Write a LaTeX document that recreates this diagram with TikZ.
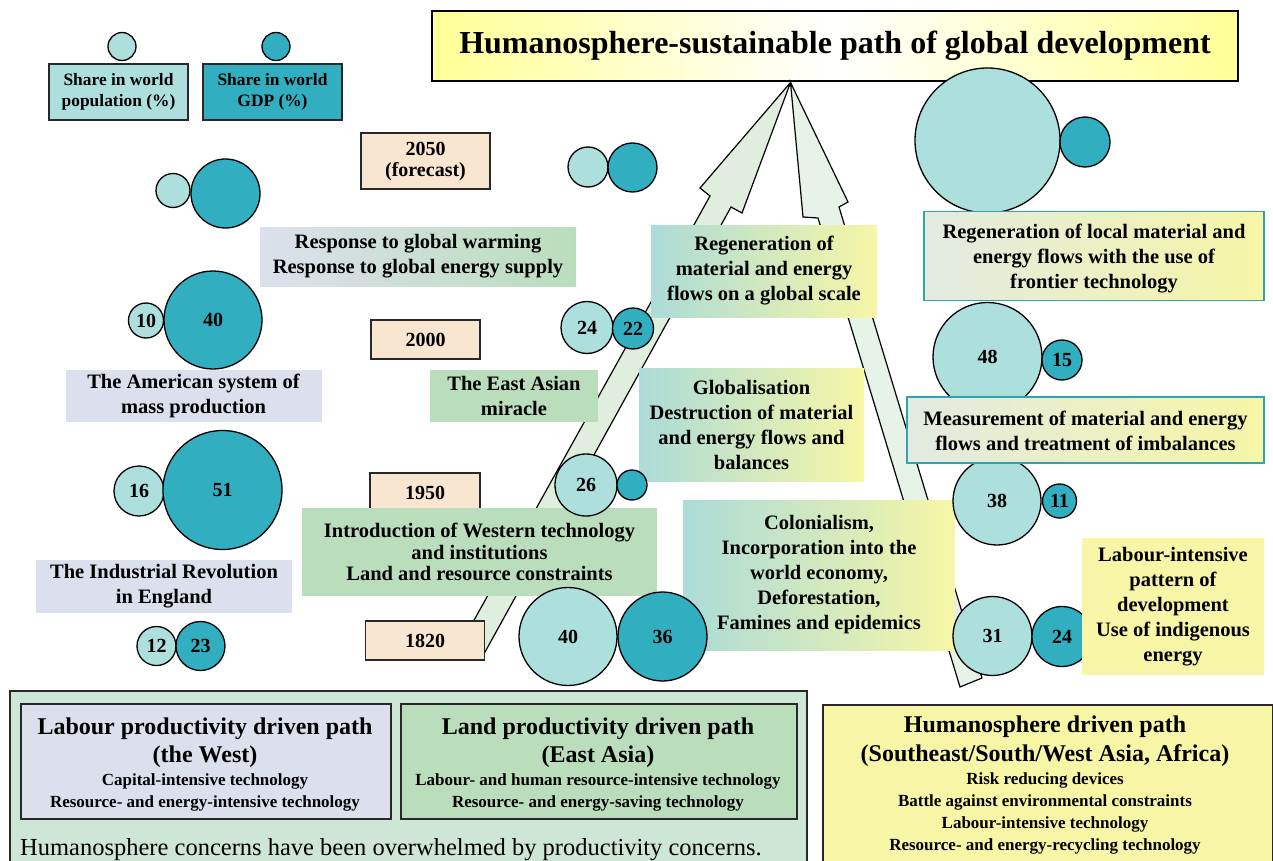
\documentclass[tikz,border=0pt]{standalone}
\usepackage{fontspec}
\setmainfont{Liberation Serif}
\definecolor{popc}{RGB}{173,223,221}
\definecolor{gdpc}{RGB}{49,174,192}
\definecolor{peach}{RGB}{248,230,208}
\definecolor{lav}{RGB}{220,224,236}
\definecolor{grn}{RGB}{186,222,188}
\definecolor{yel}{RGB}{246,246,166}
\definecolor{biggrn}{RGB}{206,230,214}
\definecolor{tealb}{RGB}{48,164,170}
\definecolor{arrL}{RGB}{223,238,221}
\definecolor{arrR}{RGB}{231,242,233}
\definecolor{titley}{RGB}{255,255,150}
\definecolor{gradL}{RGB}{172,219,216}
\definecolor{gradLL}{RGB}{226,234,226}
\definecolor{edge}{RGB}{40,40,40}
\newcommand{\subline}{\fontsize{17}{22}\selectfont}
\begin{document}
\begin{tikzpicture}[x=1pt,y=-1pt,
  bub/.style={circle,draw=black,line width=1.3pt,inner sep=0pt,font=\bfseries\fontsize{20}{24}\selectfont},
  pop/.style={bub,fill=popc},
  gdp/.style={bub,fill=gdpc},
  yearbox/.style={draw=edge,line width=1.6pt,fill=peach,inner sep=0pt,align=center,font=\bfseries\fontsize{20}{21}\selectfont},
  txtbox/.style={inner sep=0pt,align=center,font=\bfseries\fontsize{20.5}{25}\selectfont},
  legbox/.style={draw=edge,line width=1.4pt,inner sep=0pt,align=center,font=\bfseries\fontsize{17.4}{21.5}\selectfont},
  tealbox/.style={txtbox,draw=tealb,line width=1.5pt},
  pathbox/.style={draw=edge,line width=1.6pt,inner sep=0pt,anchor=north west},
  pathtext/.style={inner sep=0pt,align=center,font=\bfseries\fontsize{24}{28}\selectfont},
  blockarrow/.style={draw=black,line width=1.2pt,line join=miter},
]
\clip (0,0) rectangle (1273,861);

% title
\node[draw=black,line width=2pt,left color=titley,right color=titley,middle color=white,
      minimum width=806pt,minimum height=70pt,inner sep=0pt,
      font=\bfseries\fontsize{32}{38}\selectfont] (title) at (835,46)
      {Humanosphere-sustainable path of global development};

% block arrows
\coordinate (tip) at (790.5,82.5);
\draw[blockarrow,fill=arrL] (tip) -- (742,213) -- (731,207) -- (485,652) -- (463,640) -- (710,196) -- (700,188) -- cycle;
\draw[blockarrow,fill=arrR] (tip) -- (848,202) -- (839,207) -- (982,678) -- (960,687) -- (818,218) -- (803,217) -- cycle;

% legend
\node[pop,minimum size=28pt] (legpop) at (122,46.5) {};
\node[gdp,minimum size=28pt] (leggdp) at (276,46.5) {};
\node[legbox,fill=popc,minimum width=139pt,minimum height=56pt] (legpopbox) at (118.5,92) {Share in world\\population (\%)};
\node[legbox,fill=gdpc,minimum width=139pt,minimum height=56pt] (leggdpbox) at (272.5,92) {Share in world\\GDP (\%)};

% year boxes
\node[yearbox,minimum width=129pt,minimum height=56pt] (y2050) at (425.5,161) {2050\\(forecast)};
\node[yearbox,minimum width=109pt,minimum height=39pt] (y2000) at (425.5,339.5) {2000};
\node[yearbox,minimum width=110pt,minimum height=39pt] (y1950) at (425,492.5) {1950};
\node[yearbox,minimum width=119pt,minimum height=39pt] (y1820) at (425,640.5) {1820};

% label boxes
\node[txtbox,left color=lav,right color=grn,minimum width=316pt,minimum height=59pt] (resp) at (418,256.5) {Response to global warming\\Response to global energy supply};
\node[txtbox,fill=lav,minimum width=256pt,minimum height=52pt] (amer) at (193.5,396) {The American system of\\mass production};
\node[txtbox,fill=grn,minimum width=168pt,minimum height=52pt] (eastasia) at (514,396) {The East Asian\\miracle};
\node[txtbox,fill=grn,minimum width=355pt,minimum height=88pt,font=\bfseries\fontsize{20.5}{21.5}\selectfont] (intro) at (479.5,552) {Introduction of Western technology\\and institutions\\Land and resource constraints};
\node[txtbox,fill=lav,minimum width=256pt,minimum height=53pt] (indrev) at (164,586.5) {The Industrial Revolution\\in England};
\node[txtbox,left color=gradL,right color=yel,minimum width=226pt,minimum height=92pt] (regglob) at (764,271) {Regeneration of\\material and energy\\flows on a global scale};
\node[txtbox,left color=gradL,right color=yel,minimum width=225pt,minimum height=113pt] (glob) at (751.5,424.5) {Globalisation\\Destruction of material\\and energy flows and\\balances};
\node[txtbox,left color=gradL,right color=yel,minimum width=272pt,minimum height=150pt] (colon) at (819,575) {Colonialism,\\Incorporation into the\\world economy,\\Deforestation,\\Famines and epidemics};

% circles
\node[pop,minimum size=34pt] (p2050a) at (173,190.5) {};
\node[gdp,minimum size=69pt] (g2050a) at (225.5,193.5) {};
\node[pop,minimum size=40pt] (p2050b) at (588,167) {};
\node[gdp,minimum size=49pt] (g2050b) at (632.5,167.5) {};
\node[pop,minimum size=145pt] (p2050c) at (987.5,140.5) {};
\node[gdp,minimum size=50pt] (g2050c) at (1085,142) {};
\node[pop,minimum size=35pt] (p2000a) at (146,320.5) {10};
\node[gdp,minimum size=98pt] (g2000a) at (213,320) {40};
\node[pop,minimum size=52pt] (p2000b) at (587,327.5) {24};
\node[gdp,minimum size=41pt] (g2000b) at (633,328.5) {22};
\node[pop,minimum size=109pt] (p2000c) at (987.5,357) {48};
\node[gdp,minimum size=40pt] (g2000c) at (1062,360) {15};
\node[pop,minimum size=50pt] (p1950a) at (139,491) {16};
\node[gdp,minimum size=119pt] (g1950a) at (222.5,490) {51};
\node[pop,minimum size=62pt] (p1950b) at (586,485) {26};
\node[gdp,minimum size=30pt] (g1950b) at (632,485) {};
\node[pop,minimum size=88pt] (p1950c) at (997,501) {38};
\node[gdp,minimum size=34pt] (g1950c) at (1059.5,501) {11};
\node[pop,minimum size=39pt] (p1820a) at (156.5,646) {12};
\node[gdp,minimum size=49pt] (g1820a) at (200.5,646) {23};
\node[pop,minimum size=98pt] (p1820b) at (568,636.5) {40};
\node[gdp,minimum size=89pt] (g1820b) at (662.5,636.5) {36};
\node[pop,minimum size=79pt] (p1820c) at (992.5,636) {31};
\node[gdp,minimum size=60pt] (g1820c) at (1062,636.5) {24};

% right-hand boxes (over circles)
\node[tealbox,left color=gradLL,right color=yel,minimum width=340pt,minimum height=89pt] (regloc) at (1094,256) {};
\node[txtbox] (regloctxt) at (1094,259) {Regeneration of local material and\\energy flows with the use of\\frontier technology};
\node[tealbox,left color=gradLL,right color=yel,minimum width=357pt,minimum height=66pt] (measure) at (1085.5,430) {};
\node[txtbox] (measuretxt) at (1085.5,431) {Measurement of material and energy\\flows and treatment of imbalances};
\node[txtbox,fill=yel,minimum width=182pt,minimum height=137pt] (labint) at (1173,606.5) {Labour-intensive\\pattern of\\development\\Use of indigenous\\energy};

% bottom paths
\node[pathbox,fill=biggrn,minimum width=797pt,minimum height=200pt] (prodpath) at (9,690) {};
\node[pathbox,fill=lav,minimum width=370pt,minimum height=115pt] (west) at (20,703) {};
\node[pathtext] (westtxt) at (205,765)
  {Labour productivity driven path\\(the West)\\[-5pt]\subline Capital-intensive technology\\[-6pt]\subline Resource- and energy-intensive technology};
\node[pathbox,fill=grn,minimum width=396pt,minimum height=115pt] (east) at (400,703) {};
\node[pathtext] (easttxt) at (598,765)
  {Land productivity driven path\\(East Asia)\\[-5pt]\subline Labour- and human resource-intensive technology\\[-6pt]\subline Resource- and energy-saving technology};
\node[anchor=base west,inner sep=0pt,font=\fontsize{24.5}{28}\selectfont] (concern) at (20,855) {Humanosphere concerns have been overwhelmed by productivity concerns.};
\node[pathbox,fill=yel,minimum width=450pt,minimum height=200pt] (hpath) at (822,704) {};
\node[pathtext] (hpathtxt) at (1045,785)
  {Humanosphere driven path\\[1pt](Southeast/South/West Asia, Africa)\\[-5pt]\subline Risk reducing devices\\[-6pt]\subline Battle against environmental constraints\\[-6pt]\subline Labour-intensive technology\\[-6pt]\subline Resource- and energy-recycling technology};
\end{tikzpicture}
\end{document}
